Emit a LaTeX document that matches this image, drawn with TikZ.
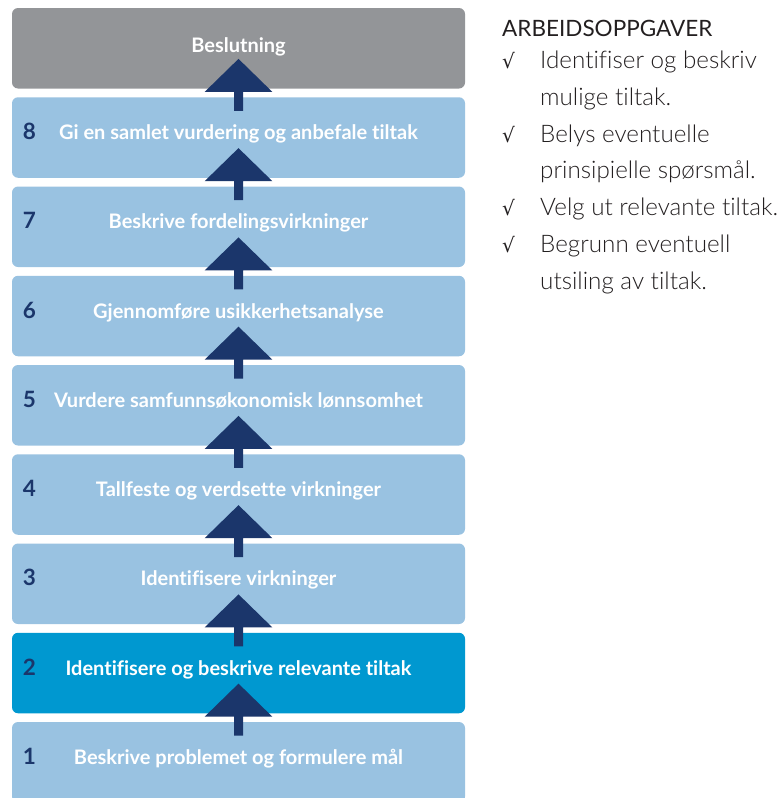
\documentclass[tikz,border=0pt]{standalone}
\usepackage{fontspec}
\setmainfont{Lato}[Ligatures={NoCommon}]
\newfontfamily\lightfont{Lato Light}[Ligatures={NoCommon}]
\newfontfamily\checkfont{DejaVu Sans}
\usetikzlibrary{calc}

\definecolor{greybox}{HTML}{939598}
\definecolor{stepblue}{HTML}{99C2E1}
\definecolor{activeblue}{HTML}{0098D0}
\definecolor{navy}{HTML}{1B366B}
\definecolor{listtext}{HTML}{231F20}

\begin{document}
\begin{tikzpicture}[x=1pt,y=-1pt,
  stepbox/.style={fill=stepblue, rounded corners=6pt, minimum width=453pt,
    minimum height=80.5pt, inner sep=0pt, outer sep=0pt},
  steplabel/.style={text=white, font=\bfseries\fontsize{20}{22}\selectfont,
    anchor=base, inner sep=0pt},
  stepnum/.style={text=navy, font=\bfseries\fontsize{22.5}{24}\selectfont,
    anchor=base, inner sep=0pt},
  uparrow/.style={fill=navy},
  listhead/.style={text=listtext, font=\fontsize{22.5}{25}\selectfont,
    anchor=base west, inner sep=0pt},
  listitem/.style={text=listtext, font=\lightfont\fontsize{24.2}{26}\selectfont,
    anchor=base west, inner sep=0pt},
  checkmark/.style={text=listtext, font=\checkfont\fontsize{20}{22}\selectfont,
    anchor=base west, inner sep=0pt}]

\useasboundingbox (0,0) rectangle (784,798);
\clip (0,0) rectangle (784,798);

% decision box on top
\node[stepbox, fill=greybox] (b0) at (238.5,48.25) {};
\node[steplabel] (t0) at ($(b0.center)+(0,4)$) {Beslutning};

% the eight steps, numbered from the bottom up
\foreach \k/\num/\txt in {
  1/8/Gi en samlet vurdering og anbefale tiltak,
  2/7/Beskrive fordelingsvirkninger,
  3/6/Gjennomføre usikkerhetsanalyse,
  4/5/Vurdere samfunnsøkonomisk lønnsomhet,
  5/4/Tallfeste og verdsette virkninger,
  6/3/Identifisere virkninger,
  8/1/Beskrive problemet og formulere mål} {
  \node[stepbox] (b\k) at (238.5,48.25+89.25*\k) {};
  \node[steplabel] (t\k) at ($(b\k.center)+(0,2)$) {\txt};
  \node[stepnum] (n\k) at ($(b\k.center)+(-209,2)$) {\num};
}
% highlighted current step
\node[stepbox, fill=activeblue] (b7) at (238.5,48.25+89.25*7) {};
\node[steplabel] (t7) at ($(b7.center)+(0,2)$) {Identifisere og beskrive relevante tiltak};
\node[stepnum] (n7) at ($(b7.center)+(-209,2)$) {2};

% upward arrows across each gap
\foreach \k [evaluate=\k as \up using int(\k-1)] in {1,...,8} {
  \coordinate (m\k) at ($(b\k.north)!0.5!(b\up.south)$);
  \fill[uparrow, shift={(m\k)}] (-4.5,18) -- (-4.5,-1) -- (-33.8,-1) -- (0,-34)
    -- (33.8,-1) -- (4.5,-1) -- (4.5,18) -- cycle;
}

% task list
\node[checkmark] (c1) at (502,68.5) {√};
\node[listhead] (head) at ($(c1.base west)+(0,-32.5)$) {ARBEIDSOPPGAVER};
\node[listitem] (l1) at (540,68.5) {Identifiser og beskriv};
\node[listitem] (l2) at (540,105) {mulige tiltak.};
\node[checkmark] (c2) at (502,142) {√};
\node[listitem] (l3) at (540,142) {Belys eventuelle};
\node[listitem] (l4) at (540,178.5) {prinsipielle spørsmål.};
\node[checkmark] (c3) at (502,215.5) {√};
\node[listitem] (l5) at (540,215.5) {Velg ut relevante tiltak.};
\node[checkmark] (c4) at (502,252) {√};
\node[listitem] (l6) at (540,252) {Begrunn eventuell};
\node[listitem] (l7) at (540,289) {utsiling av tiltak.};

\end{tikzpicture}
\end{document}
